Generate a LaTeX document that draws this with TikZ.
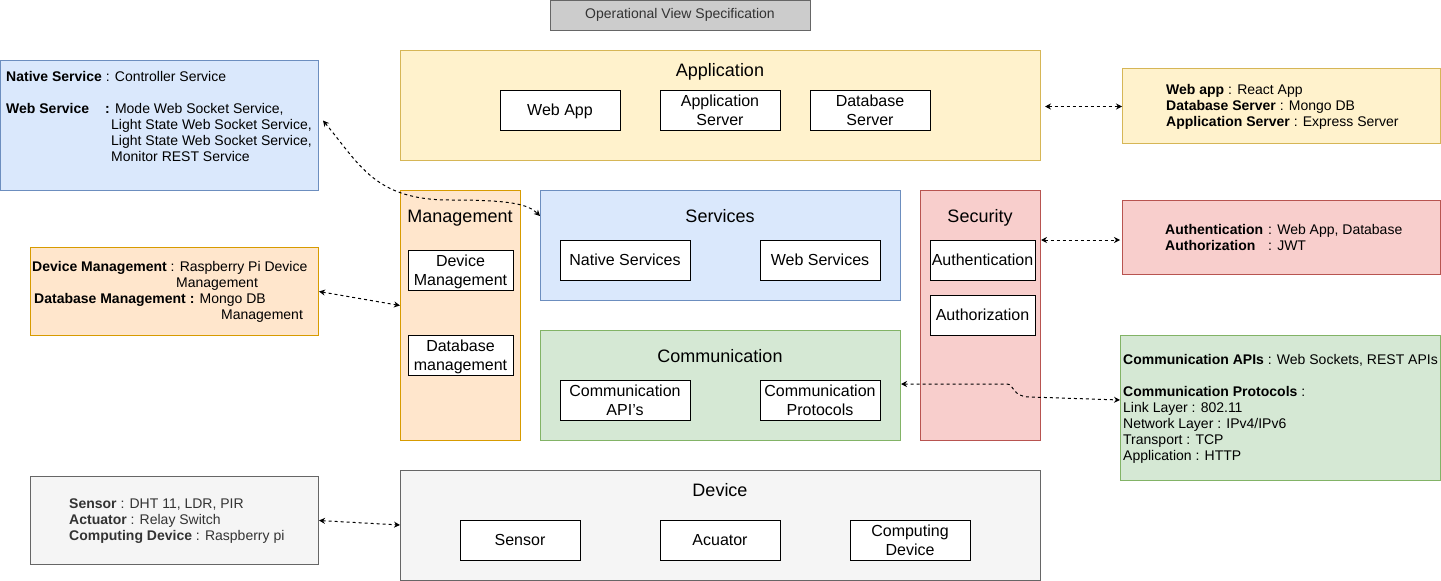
\documentclass[tikz,border=0pt]{standalone}
\usepackage{fontspec}
\setmainfont{Liberation Sans}
\usetikzlibrary{arrows.meta,calc}
\definecolor{yfill}{HTML}{FFF2CC}\definecolor{ystroke}{HTML}{D6B656}
\definecolor{ofill}{HTML}{FFE6CC}\definecolor{ostroke}{HTML}{D79B00}
\definecolor{bfill}{HTML}{DAE8FC}\definecolor{bstroke}{HTML}{6C8EBF}
\definecolor{rfill}{HTML}{F8CECC}\definecolor{rstroke}{HTML}{B85450}
\definecolor{gfill}{HTML}{D5E8D4}\definecolor{gstroke}{HTML}{82B366}
\definecolor{dfill}{HTML}{F5F5F5}\definecolor{dstroke}{HTML}{666666}
\definecolor{tfill}{HTML}{CCCCCC}\definecolor{dtext}{HTML}{333333}
\newcommand\lstrut{\rule[-3.8pt]{0pt}{19.2pt}}
\newcommand\sstrut{\rule[-3pt]{0pt}{16pt}}
\tikzset{
  x=1pt,y=-1pt,
  region/.style={draw=#1stroke,fill=#1fill,line width=1pt,anchor=north west,inner sep=0pt},
  inbox/.style={draw=black,fill=white,line width=1pt,inner sep=0pt,align=center,
     font=\fontsize{16}{19.2}\selectfont},
  head/.style={anchor=base,inner sep=0pt,font=\fontsize{18}{21.6}\selectfont},
  note/.style={anchor=north west,inner sep=0pt,align=left,font=\fontsize{14}{16}\selectfont},
  link/.style={line width=1pt,dash pattern=on 3pt off 3pt,
     {Stealth[length=6pt,width=6pt]}-{Stealth[length=6pt,width=6pt]}},
}
\begin{document}
\begin{tikzpicture}
\useasboundingbox (0,0) rectangle (1441,581);
% title
\node[draw=dstroke,fill=tfill,line width=1pt,minimum width=260pt,minimum height=30pt,inner sep=0pt,
  text=dtext,font=\fontsize{14}{16.8}\selectfont] (title) at (680,15) {Operational View Specification};

% Application
\node[region=y,minimum width=640pt,minimum height=110pt] (app) at (400,50) {};
\node[head] (apph) at (720,76.5) {Application};
\node[inbox,minimum width=120pt,minimum height=40pt] (webapp) at (560,110) {Web App\lstrut};
\node[inbox,minimum width=120pt,minimum height=40pt] (appserver) at (720,110) {Application\lstrut\\Server\lstrut};
\node[inbox,minimum width=120pt,minimum height=40pt] (dbserver) at (870,110) {Database\lstrut\\Server\lstrut};

% Management
\node[region=o,minimum width=120pt,minimum height=250pt] (mgmt) at (400,190) {};
\node[head] (mgmth) at (460,222.5) {Management};
\node[inbox,minimum width=105pt,minimum height=40pt] (devmgmt) at (460.5,270) {Device\lstrut\\Management\lstrut};
\node[inbox,minimum width=105pt,minimum height=40pt] (dbmgmt) at (460.5,355) {Database\lstrut\\management\lstrut};

% Services
\node[region=b,minimum width=360pt,minimum height=110pt] (serv) at (540,190) {};
\node[head] (servh) at (720,222.5) {Services};
\node[inbox,minimum width=130pt,minimum height=40pt] (native) at (625,260) {Native Services\lstrut};
\node[inbox,minimum width=120pt,minimum height=40pt] (websvc) at (820,260) {Web Services\lstrut};

% Security
\node[region=r,minimum width=120pt,minimum height=250pt] (sec) at (920,190) {};
\node[head] (sech) at (980,222.5) {Security};
\node[inbox,minimum width=105pt,minimum height=40pt] (authn) at (982.5,260) {Authentication\lstrut};
\node[inbox,minimum width=105pt,minimum height=40pt] (authz) at (982.5,315) {Authorization\lstrut};

% Communication
\node[region=g,minimum width=360pt,minimum height=110pt] (comm) at (540,330) {};
\node[head] (commh) at (720,362.5) {Communication};
\node[inbox,minimum width=130pt,minimum height=40pt] (commapi) at (625,400) {Communication\lstrut\\API's\lstrut};
\node[inbox,minimum width=120pt,minimum height=40pt] (commproto) at (820,400) {Communication\lstrut\\Protocols\lstrut};

% Device
\node[region=d,minimum width=640pt,minimum height=110pt] (dev) at (400,470) {};
\node[head] (devh) at (720,496.5) {Device};
\node[inbox,minimum width=120pt,minimum height=40pt] (sensor) at (520,540) {Sensor\lstrut};
\node[inbox,minimum width=120pt,minimum height=40pt] (actuator) at (720,540) {Acuator\lstrut};
\node[inbox,minimum width=120pt,minimum height=40pt] (compdev) at (910,540) {Computing\lstrut\\Device\lstrut};

% left notes
\node[region=b,minimum width=318pt,minimum height=130pt] (bnote) at (0,60) {};
\node[note] (bnotet) at (6,68) {\sstrut\textbf{Native Service} : Controller Service\\[16pt]
\makebox[99pt][l]{\textbf{Web Service}}\textbf{:} Mode Web Socket Service,\\
\hspace*{105pt}Light State Web Socket Service,\\
\hspace*{105pt}Light State Web Socket Service,\\
\hspace*{105pt}Monitor REST Service};

\node[region=o,minimum width=288pt,minimum height=88pt] (onote) at (30,247) {};
\node[note] (onotet) at (32,258) {\sstrut\textbf{Device Management} : Raspberry Pi Device\\
\hspace*{144pt}Management\\
\hspace*{2pt}\textbf{Database Management :} Mongo DB\\
\hspace*{189pt}Management};

\node[region=d,minimum width=288pt,minimum height=88pt] (dnote) at (30,476) {};
\node[note,text=dtext] (dnotet) at (69,495) {\sstrut\textbf{Sensor} : DHT 11, LDR, PIR\\
\textbf{Actuator} : Relay Switch\\
\textbf{Computing Device} : Raspberry pi};

% right notes
\node[region=y,minimum width=318pt,minimum height=75pt] (ynote) at (1122,68) {};
\node[note] (ynotet) at (1166,81) {\sstrut\textbf{Web app} : React App\\
\textbf{Database Server} : Mongo DB\\
\textbf{Application Server} : Express Server};

\node[region=r,minimum width=318pt,minimum height=74pt] (rnote) at (1122,200) {};
\node[note] (rnotet) at (1165,221) {\sstrut\makebox[103pt][l]{\textbf{Authentication}}: Web App, Database\\
\makebox[103pt][l]{\textbf{Authorization}}: JWT};

\node[region=g,minimum width=320pt,minimum height=145pt] (gnote) at (1120,335) {};
\node[note] (gnotet) at (1123,351) {\sstrut\textbf{Communication APIs} : Web Sockets, REST APIs\\[16pt]
\textbf{Communication Protocols} :\\
Link Layer : 802.11\\
Network Layer : IPv4/IPv6\\
Transport : TCP\\
Application : HTTP};

% connectors
\draw[link] ($(app.east)+(4,1)$) -- ($(ynote.west)+(0,0.5)$);
\draw[link] (sec.east |- 0,240) -- ($(rnote.west |- 0,240)+(-2,0)$);
\draw[link] (comm.east |- 0,384) -- (1007,384) .. controls (1014,384) and (1012,397) .. (1030,397) -- (gnote.west |- 0,400);
\draw[link] ($(bnote.east)+(4,-5)$) .. controls (360,165) and (375,200) .. (450,200) .. controls (510,200) and (528,204) .. (serv.west |- 0,216);
\draw[link] (onote.east) -- ($(mgmt.west)+(0,-10)$);
\draw[link] (dnote.east) -- (dev.west |- 0,525);
\end{tikzpicture}
\end{document}
